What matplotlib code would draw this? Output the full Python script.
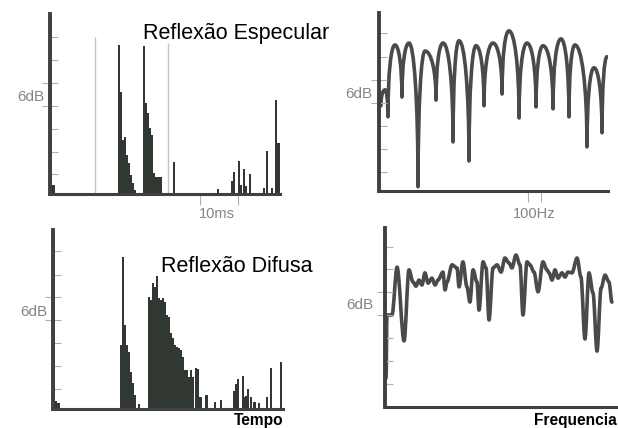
# -*- coding: utf-8 -*-
"""
Reflexão especular x difusa: resposta ao impulso e resposta em frequência
"""
import matplotlib
matplotlib.use('Agg')
import matplotlib.pyplot as plt
from matplotlib.path import Path
from matplotlib.patches import PathPatch

plt.rcParams['font.family'] = ['Liberation Sans', 'DejaVu Sans']

# ---------------- dados ----------------
# reflexão especular - tempo (ms) x nível (dB)
esp_t = [0.05, 0.23, 4.60, 4.73, 4.87, 5.00, 5.13, 5.27, 5.40, 5.53, 5.63,
         6.27, 6.40, 6.53, 6.67, 6.80, 6.93, 7.07, 7.20, 7.37, 8.27, 11.20,
         12.13, 12.27, 12.60, 12.73, 12.93, 13.07, 13.33, 14.27, 14.47, 14.80,
         15.07, 15.23]
esp_db = [47.4, 2.4, 39.3, 26.9, 14.2, 15.1, 10.3, 8.2, 5.0, 2.9, 1.1,
          39.1, 23.9, 21.3, 17.4, 15.5, 5.5, 4.5, 4.5, 4.5, 8.4, 1.3,
          3.4, 5.8, 8.7, 2.4, 6.6, 2.1, 5.3, 1.6, 11.3, 1.6,
          24.7, 13.4]
marca_t = [3.0, 7.87]
marca_db = [41.3, 39.7]
esp_ticks = [5.3, 11.1, 17.1, 23.2, 29.2, 35.3, 41.3]

# reflexão especular - frequência (Hz): vales e picos alternados
esp_f = [1.3, 4.0, 6.0, 10.7, 15.4, 20.1, 26.2, 30.9, 38.3, 43.0, 49.7, 53.7,
         60.4, 65.1, 70.5, 76.5, 82.6, 87.2, 94.0, 99.3, 105.4, 110.1, 116.8,
         122.1, 127.5, 131.5, 139.6, 144.3, 149.7, 153.0]
esp_f_db = [22.4, 26.6, 19.5, 38.4, 24.7, 38.9, 1.1, 36.8, 23.9, 38.9, 12.9, 39.5,
            7.9, 38.2, 22.4, 38.9, 25.5, 42.1, 19.2, 38.9, 22.1, 38.2, 21.6,
            40.0, 19.5, 38.4, 11.6, 32.4, 15.3, 35.3]
esp_f_ticks = [5.0, 11.1, 17.1, 23.2, 29.2, 35.3, 41.6]

# reflexão difusa - tempo (ms) x nível (dB)
dif_t = [0.05, 0.20, 0.37, 4.53, 4.67, 4.80, 4.93, 5.07, 5.20, 5.33, 5.47, 5.73,
         6.40, 6.53, 6.67, 6.80, 6.93, 7.07, 7.20, 7.33, 7.47, 7.60, 7.73, 7.87,
         8.00, 8.13, 8.27, 8.40, 8.53, 8.67, 8.80, 8.93, 9.07, 9.20, 9.33, 9.53,
         9.67, 9.83, 10.23, 10.80, 11.20, 12.07, 12.20, 12.33, 12.67, 12.77,
         12.87, 13.00, 13.20, 13.43, 13.73, 14.27, 14.53, 15.20]
dif_db = [47.0, 2.0, 1.4, 16.7, 39.9, 22.0, 16.7, 14.9, 9.6, 6.7, 3.6, 1.2,
          29.3, 28.6, 33.0, 32.0, 34.9, 29.1, 28.6, 29.1, 28.0, 24.6, 24.1, 19.9,
          18.6, 16.7, 16.2, 15.9, 15.4, 13.6, 10.1, 10.1, 8.3, 10.1, 8.3, 10.7,
          10.4, 3.0, 3.6, 1.7, 2.2, 4.6, 6.4, 7.8, 8.6, 3.0,
          3.3, 5.1, 3.0, 1.7, 1.4, 3.0, 10.7, 12.2]
dif_ticks = [5.1, 11.2, 17.2, 23.3, 29.3, 35.1, 41.4]

# reflexão difusa - frequência (Hz)
dif_f = [0.7, 1.3, 4.7, 8.1, 12.8, 16.1, 18.8, 20.8, 22.8, 24.8, 26.8, 28.9,
         31.5, 33.6, 35.6, 38.9, 40.3, 41.6, 45.0, 48.3, 49.7, 52.3, 55.0, 57.0,
         59.1, 61.7, 63.1, 65.8, 67.8, 69.8, 72.5, 75.2, 77.9, 80.5, 83.2, 85.2,
         87.9, 90.6, 92.6, 95.3, 97.3, 100.0, 102.7, 106.0, 108.7, 110.1, 112.1,
         114.1, 116.1, 118.8, 120.8, 122.8, 125.5, 128.9, 131.5, 134.2, 136.9,
         139.6, 142.3, 145.0, 147.7, 150.3, 152.3]
dif_f_db = [7.6, 24.2, 24.2, 36.8, 17.4, 36.1, 32.9, 31.8, 33.4, 32.1, 35.3, 32.6,
            33.9, 32.1, 33.4, 35.5, 30.8, 32.9, 37.4, 36.6, 31.6, 38.2, 31.6, 27.6,
            36.1, 32.9, 25.5, 38.2, 36.6, 22.9, 36.6, 37.4, 35.5, 39.2, 37.9, 36.6,
            40.0, 37.4, 24.2, 38.2, 37.4, 35.5, 30.3, 38.2, 36.1, 35.3, 33.4,
            36.1, 33.9, 35.3, 34.2, 35.5, 35.3, 39.2, 34.2, 17.9, 35.3,
            30.0, 14.7, 31.3, 34.7, 32.9, 27.6]
dif_f_ticks = [6.1, 12.1, 18.2, 24.2, 30.3, 36.3, 42.1]

cor_barra = '#313731'
cor_curva = '#4a4a4a'
cor_eixo = '#404040'
cor_tick = '#b0b0b0'
cor_cinza = '#858585'

W, H = 618, 428
fig = plt.figure(figsize=(6.18, 4.28), dpi=100)
fig.patch.set_facecolor('white')


def eixo(x0, x1, y_topo, y_base, xmax, ymax, ticks, label_db, dx):
    # caixa em pixels -> fração da figura
    ax = fig.add_axes([x0 / W, 1 - y_base / H, (x1 - x0) / W, (y_base - y_topo) / H])
    ax.set_xlim(0, xmax)
    ax.set_ylim(0, ymax)
    ax.patch.set_alpha(0)
    ax.spines['top'].set_visible(False)
    ax.spines['right'].set_visible(False)
    ax.spines['left'].set_linewidth(2.8)
    ax.spines['bottom'].set_linewidth(2.2)
    ax.spines['left'].set_color(cor_eixo)
    ax.spines['bottom'].set_color(cor_eixo)
    # ticks curtos, os dois do 6dB mais compridos
    ax.set_yticks([t for i, t in enumerate(ticks) if i not in (3, 4)])
    ax.set_yticks([ticks[3], ticks[4]], minor=True)
    ax.tick_params(axis='y', which='major', direction='in', length=6, width=0.8,
                   color=cor_tick, labelleft=False)
    ax.tick_params(axis='y', which='minor', direction='inout', length=11, width=0.8,
                   color=cor_tick, labelleft=False)
    ax.set_xticks([])
    ax.annotate('6dB', xy=(0, label_db), xycoords=('axes fraction', 'data'),
                xytext=(-dx * 0.72, 0), textcoords='offset points',
                ha='right', va='center', color=cor_cinza, fontsize=11)
    return ax


def curva_arcos(ax, fx, lv):
    # arcos: saem do vale na vertical e chegam ao pico na horizontal
    verts = [(fx[0], lv[0])]
    codes = [Path.MOVETO]
    for i in range(1, len(fx)):
        xa, ya, xb, yb = fx[i - 1], lv[i - 1], fx[i], lv[i]
        if yb > ya:   # vale -> pico
            c1 = (xa, ya + 0.6 * (yb - ya))
            c2 = (xb - 0.55 * (xb - xa), yb)
        else:         # pico -> vale
            c1 = (xa + 0.55 * (xb - xa), ya)
            c2 = (xb, yb + 0.6 * (ya - yb))
        verts += [c1, c2, (xb, yb)]
        codes += [Path.CURVE4] * 3
    ax.add_patch(PathPatch(Path(verts, codes), fill=False, lw=2.6, ec=cor_curva,
                           capstyle='round', joinstyle='round'))


def curva_suave(ax, fx, lv):
    # tangente horizontal em cada ponto lido
    verts = [(fx[0], lv[0])]
    codes = [Path.MOVETO]
    for i in range(1, len(fx)):
        d = (fx[i] - fx[i - 1]) / 3
        verts += [(fx[i - 1] + d, lv[i - 1]), (fx[i] - d, lv[i]), (fx[i], lv[i])]
        codes += [Path.CURVE4] * 3
    ax.add_patch(PathPatch(Path(verts, codes), fill=False, lw=2.6, ec=cor_curva,
                           capstyle='round', joinstyle='round'))


# especular - tempo
ax1 = eixo(50, 280, 14, 194, 15.33, 47.4, esp_ticks, 25.5, 6)
ax1.vlines(marca_t, 0, marca_db, color='#c4c4c4', lw=1.0)
ax1.bar(esp_t, esp_db, width=0.15, color=cor_barra, linewidth=0)
ax1.set_xticks([10, 12.5])
ax1.tick_params(axis='x', direction='out', length=8, width=0.8, color=cor_tick,
                labelbottom=False)

# especular - frequência
ax2 = eixo(379, 608, 13, 191, 153.7, 46.8, esp_f_ticks, 25.5, 7)
curva_arcos(ax2, esp_f, esp_f_db)
ax2.set_xticks([100, 108.7])
ax2.tick_params(axis='x', direction='out', length=8, width=0.8, color=cor_tick,
                labelbottom=False)

# difusa - tempo
ax3 = eixo(53, 283, 230, 408.5, 15.33, 47.0, dif_ticks, 25.5, 6)
ax3.bar(dif_t, dif_db, width=0.15, color=cor_barra, linewidth=0)

# difusa - frequência
ax4 = eixo(385, 617, 228, 407, 155.7, 47.1, dif_f_ticks, 26.8, 12)
curva_suave(ax4, dif_f, dif_f_db)

# textos
fig.text(143 / W, 1 - 33 / H, 'Reflexão Especular', fontsize=15.5, ha='left', va='center')
fig.text(161 / W, 1 - 266 / H, 'Reflexão Difusa', fontsize=15.5, ha='left', va='center')
fig.text(216.5 / W, 1 - 214 / H, '10ms', fontsize=10.5, color=cor_cinza, ha='center', va='center')
fig.text(534 / W, 1 - 214 / H, '100Hz', fontsize=10.5, color=cor_cinza, ha='center', va='center')
fig.text(283 / W, 1 - 420 / H, 'Tempo', fontsize=11.2, fontweight='bold', ha='right', va='center')
fig.text(617 / W, 1 - 420 / H, 'Frequencia', fontsize=11.2, fontweight='bold', ha='right', va='center')

fig.savefig('out.png', dpi=100)
